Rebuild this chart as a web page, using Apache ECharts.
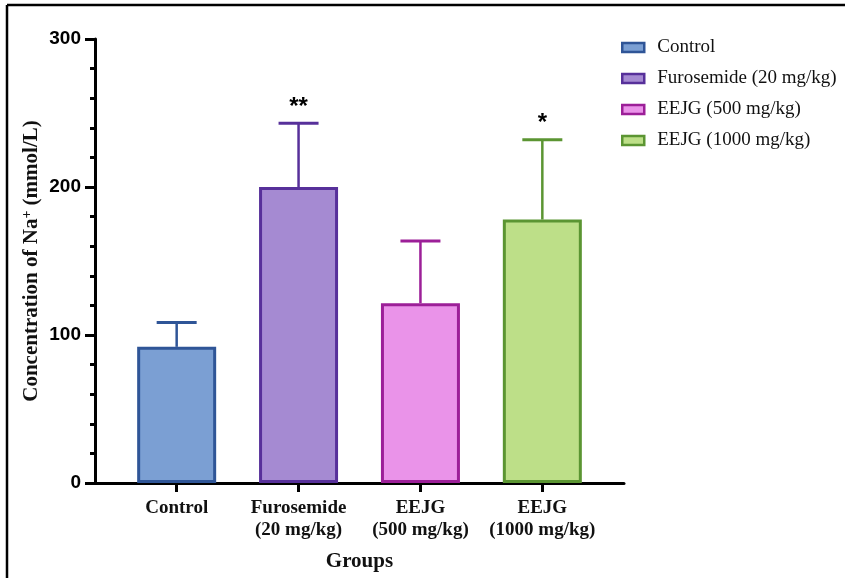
<!DOCTYPE html>
<html>
<head>
<meta charset="utf-8">
<script src="https://cdn.jsdelivr.net/npm/echarts@6/dist/echarts.min.js"></script>
<style>
html, body { margin: 0; padding: 0; background: #fff; }
#main { width: 845px; height: 578px; }
</style>
</head>
<body>
<div id="main"></div>
<script>
// groups on the x axis
var groupNames = ['Control', 'Furosemide (20 mg/kg)', 'EEJG (500 mg/kg)', 'EEJG (1000 mg/kg)'];
var groupLabels = ['Control', 'Furosemide\n(20 mg/kg)', 'EEJG\n(500 mg/kg)', 'EEJG\n(1000 mg/kg)'];
// mean Na+ concentration and top of the error bar (mean + SD)
var meanValues = [92, 200, 121.5, 178];
var errorTop = [108.5, 243, 163.5, 232];
var signif = ['', '**', '', '*'];
var yTicks = [0, 100, 200, 300];

var fillColors = ['#7B9FD3', '#A58AD2', '#EA93E9', '#BDDF88'];
var lineColors = ['#2F5597', '#57309A', '#9C1F98', '#5B9532'];

var chart = echarts.init(document.getElementById('main'));

var series = [];
for (var i = 0; i < groupNames.length; i++) {
	series.push({
		name: groupNames[i],
		type: 'bar',
		barWidth: 79,
		barGap: '-100%',
		itemStyle: {
			color: fillColors[i],
			borderColor: lineColors[i],
			borderWidth: 3
		},
		data: [[i, meanValues[i]]],
		z: 2
	});
}

var errData = [];
for (var i = 0; i < meanValues.length; i++) {
	errData.push([i, meanValues[i], errorTop[i]]);
}

series.push({
	type: 'custom',
	name: 'err',
	clip: false,
	z: 3,
	data: errData,
	renderItem: function (params, api) {
		var idx = params.dataIndex;
		var base = api.coord([api.value(0), api.value(1)]);
		var top = api.coord([api.value(0), api.value(2)]);
		var col = lineColors[idx];
		var kids = [
			{ type: 'line', shape: { x1: base[0], y1: base[1], x2: top[0], y2: top[1] },
			  style: { stroke: col, lineWidth: 2.5 } },
			{ type: 'line', shape: { x1: top[0] - 20, y1: top[1], x2: top[0] + 20, y2: top[1] },
			  style: { stroke: col, lineWidth: 3 } }
		];
		if (signif[idx]) {
			kids.push({
				type: 'text',
				x: top[0], y: top[1] - 4,
				style: {
					text: signif[idx], fill: '#000',
					font: 'bold 24px "Liberation Sans", Arial, sans-serif',
					align: 'center', verticalAlign: 'bottom'
				}
			});
		}
		return { type: 'group', children: kids };
	}
});

var option = {
	backgroundColor: '#fff',
	animation: false,
	grid: { left: 95, right: 221, top: 39, bottom: 95 },
	legend: {
		data: groupNames,
		orient: 'vertical',
		left: 616,
		top: 33,
		itemWidth: 22,
		itemHeight: 9,
		itemGap: 12,
		icon: 'rect',
		itemStyle: { borderWidth: 2.5 },
		textStyle: { fontFamily: '"Liberation Serif", "Times New Roman", serif', fontSize: 19, color: '#111', padding: [0, 0, 0, 8] }
	},
	xAxis: {
		type: 'value',
		min: -0.67,
		max: 3.67,
		name: 'Groups',
		nameLocation: 'middle',
		nameGap: 68,
		nameTextStyle: { fontFamily: '"Liberation Serif", "Times New Roman", serif', fontWeight: 'bold', fontSize: 21, color: '#111' },
		splitLine: { show: false },
		axisLine: { onZero: false, lineStyle: { color: '#000', width: 3 } },
		axisTick: { customValues: [0, 1, 2, 3], length: 9, lineStyle: { color: '#000', width: 3 } },
		axisLabel: {
			customValues: [0, 1, 2, 3],
			margin: 14,
			fontFamily: '"Liberation Serif", "Times New Roman", serif',
			fontWeight: 'bold',
			fontSize: 19,
			lineHeight: 22,
			color: '#111',
			formatter: function (v) { return groupLabels[Math.round(v)]; }
		}
	},
	yAxis: {
		type: 'value',
		min: yTicks[0],
		max: yTicks[yTicks.length - 1],
		interval: 100,
		name: '{b|Concentration of Na}{s|+}{b| (mmol/L)}',
		nameLocation: 'middle',
		nameGap: 51,
		nameMoveOverlap: false,
		nameTextStyle: {
			rich: {
				b: { fontFamily: '"Liberation Serif", "Times New Roman", serif', fontWeight: 'bold', fontSize: 21, color: '#111' },
				s: { fontFamily: '"Liberation Serif", "Times New Roman", serif', fontWeight: 'bold', fontSize: 14, color: '#111', verticalAlign: 'top', padding: [0, 0, 10, 0] }
			}
		},
		splitLine: { show: false },
		axisLine: { show: true, onZero: false, lineStyle: { color: '#000', width: 3 } },
		axisTick: { show: true, length: 10, lineStyle: { color: '#000', width: 3 } },
		minorTick: { show: true, splitNumber: 5, length: 5, lineStyle: { color: '#000', width: 3 } },
		axisLabel: {
			margin: 14,
			fontFamily: '"Liberation Sans", Arial, sans-serif',
			fontWeight: 'bold',
			fontSize: 19,
			color: '#000'
		}
	},
	graphic: [
		{ type: 'line', shape: { x1: 7, y1: 5, x2: 845, y2: 5 }, style: { stroke: '#000', lineWidth: 2.5 } },
		{ type: 'line', shape: { x1: 7, y1: 5, x2: 7, y2: 578 }, style: { stroke: '#000', lineWidth: 2.5 } }
	],
	series: series
};

chart.setOption(option);
</script>
</body>
</html>
